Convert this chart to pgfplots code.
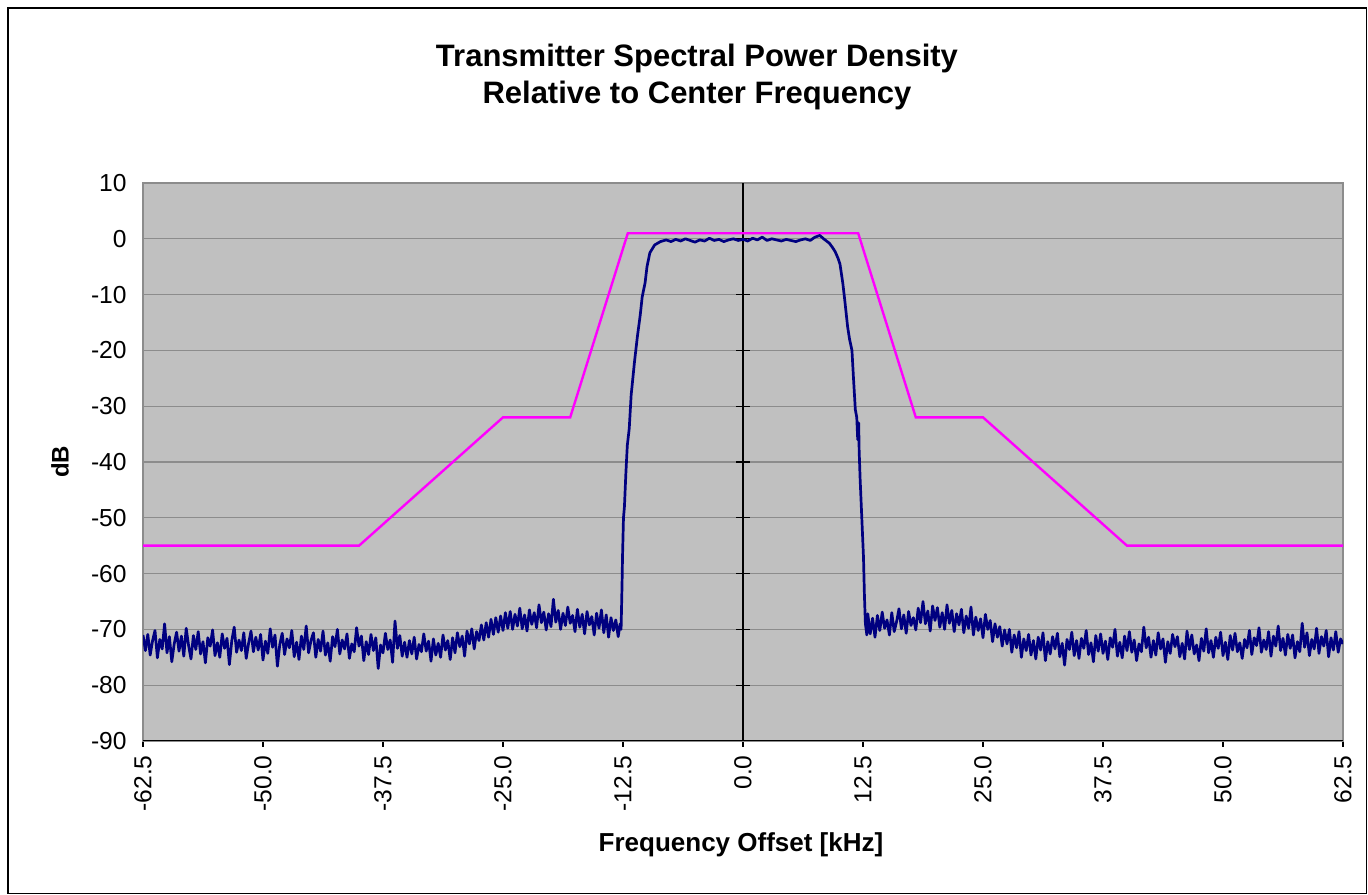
\documentclass[border=0pt]{standalone}
\usepackage{pgfplots}
\pgfplotsset{compat=1.18}
\usepackage{fontspec}
\setmainfont{Liberation Sans}
\definecolor{plotbg}{RGB}{192,192,192}
\definecolor{gridc}{RGB}{140,140,140}
\definecolor{navyc}{RGB}{0,0,128}
\definecolor{magc}{RGB}{255,0,255}
\begin{document}
\begin{tikzpicture}
\path[use as bounding box] (0,0) rectangle (684bp,447.5bp);
\draw[black, line width=0.6bp] (4bp,0.8bp) rectangle (683.2bp,443.5bp);
\begin{axis}[
  at={(71.5bp,77bp)}, anchor=south west, scale only axis,
  width=600bp, height=279bp,
  xmin=-62.5, xmax=62.5, ymin=-90, ymax=10,
  xtick={-62.5,-50,-37.5,-25,-12.5,0,12.5,25,37.5,50,62.5},
  ytick={-90,-80,...,10},
  xtick pos=bottom, ytick pos=left,
  tick align=outside, major tick length=3bp,
  ytick style={draw=none}, xtick style={black, line width=0.6bp},
  axis background/.style={fill=plotbg},
  axis line style={gridc, line width=0.8bp},
  ymajorgrids, major grid style={gridc, line width=0.6bp},
  /pgf/number format/assume math mode=true,
  tick label style={font=\fontsize{12.3bp}{14bp}\selectfont},
  yticklabel style={inner ysep=0pt, inner xsep=5bp},
  xticklabel style={rotate=90, anchor=east, inner ysep=0pt, inner xsep=4bp},
  xticklabel={\pgfmathprintnumber[fixed,fixed zerofill,precision=1]{\tick}},
]
\draw[black, line width=0.6bp] (axis cs:0,-90) -- (axis cs:0,10);
\draw[black, line width=0.6bp] ([xshift=-3.5bp]axis cs:0,0) -- ([xshift=3.5bp]axis cs:0,0);
\draw[black, line width=0.6bp] ([xshift=-3.5bp]axis cs:0,-10) -- ([xshift=3.5bp]axis cs:0,-10);
\draw[black, line width=0.6bp] ([xshift=-3.5bp]axis cs:0,-20) -- ([xshift=3.5bp]axis cs:0,-20);
\draw[black, line width=0.6bp] ([xshift=-3.5bp]axis cs:0,-30) -- ([xshift=3.5bp]axis cs:0,-30);
\draw[black, line width=0.6bp] ([xshift=-3.5bp]axis cs:0,-40) -- ([xshift=3.5bp]axis cs:0,-40);
\draw[black, line width=0.6bp] ([xshift=-3.5bp]axis cs:0,-50) -- ([xshift=3.5bp]axis cs:0,-50);
\draw[black, line width=0.6bp] ([xshift=-3.5bp]axis cs:0,-60) -- ([xshift=3.5bp]axis cs:0,-60);
\draw[black, line width=0.6bp] ([xshift=-3.5bp]axis cs:0,-70) -- ([xshift=3.5bp]axis cs:0,-70);
\draw[black, line width=0.6bp] ([xshift=-3.5bp]axis cs:0,-80) -- ([xshift=3.5bp]axis cs:0,-80);
\addplot[magc, line width=1.2bp] coordinates {
(-62.5,-55)(-40,-55)(-25,-32)(-18,-32)(-12,1)(12,1)(18,-32)(25,-32)(40,-55)(62.5,-55)};
\addplot[navyc, line width=1.35bp, line join=round] coordinates {
(-62.50,-71.0)(-62.25,-73.8)(-62.00,-70.9)(-61.75,-74.6)(-61.50,-72.0)(-61.25,-70.2)(-61.00,-75.1)(-60.75,-71.8)
(-60.50,-73.5)(-60.25,-69.0)(-60.00,-74.2)(-59.75,-71.3)(-59.50,-75.8)(-59.25,-72.6)(-59.00,-70.5)(-58.75,-73.9)
(-58.50,-71.2)(-58.25,-74.8)(-58.00,-69.8)(-57.75,-72.9)(-57.50,-75.3)(-57.25,-71.1)(-57.00,-73.6)(-56.75,-70.4)
(-56.50,-74.4)(-56.25,-72.2)(-56.00,-76.0)(-55.75,-71.5)(-55.50,-73.0)(-55.25,-70.1)(-55.00,-74.7)(-54.75,-72.4)
(-54.50,-75.0)(-54.25,-70.8)(-54.00,-73.4)(-53.75,-71.6)(-53.50,-76.3)(-53.25,-72.0)(-53.00,-69.6)(-52.75,-74.1)
(-52.50,-71.9)(-52.25,-73.8)(-52.00,-70.6)(-51.75,-75.2)(-51.50,-72.5)(-51.25,-70.3)(-51.00,-74.0)(-50.75,-71.4)
(-50.50,-73.7)(-50.25,-70.9)(-50.00,-75.5)(-49.75,-72.1)(-49.50,-74.3)(-49.25,-69.9)(-49.00,-73.2)(-48.75,-71.0)
(-48.50,-76.6)(-48.25,-72.7)(-48.00,-70.7)(-47.75,-74.5)(-47.50,-71.7)(-47.25,-73.3)(-47.00,-70.2)(-46.75,-74.9)
(-46.50,-72.3)(-46.25,-75.4)(-46.00,-71.2)(-45.75,-73.6)(-45.50,-69.4)(-45.25,-74.2)(-45.00,-72.0)(-44.75,-70.6)
(-44.50,-75.0)(-44.25,-71.8)(-44.00,-73.9)(-43.75,-70.3)(-43.50,-74.6)(-43.25,-72.4)(-43.00,-75.7)(-42.75,-71.3)
(-42.50,-73.1)(-42.25,-70.0)(-42.00,-74.4)(-41.75,-71.9)(-41.50,-73.5)(-41.25,-70.8)(-41.00,-75.2)(-40.75,-72.6)
(-40.50,-74.0)(-40.25,-69.7)(-40.00,-73.0)(-39.75,-71.2)(-39.50,-75.6)(-39.25,-72.2)(-39.00,-74.5)(-38.75,-70.9)
(-38.50,-73.8)(-38.25,-71.5)(-38.00,-77.0)(-37.75,-72.8)(-37.50,-74.2)(-37.25,-70.7)(-37.00,-73.6)(-36.75,-71.9)
(-36.50,-75.9)(-36.25,-68.5)(-36.00,-73.4)(-35.75,-71.1)(-35.50,-74.8)(-35.25,-72.3)(-35.00,-75.0)(-34.75,-72.0)
(-34.50,-74.4)(-34.25,-71.4)(-34.00,-75.3)(-33.75,-72.7)(-33.50,-74.0)(-33.25,-70.8)(-33.00,-73.9)(-32.75,-72.1)
(-32.50,-75.7)(-32.25,-71.7)(-32.00,-74.6)(-31.75,-72.5)(-31.50,-75.0)(-31.25,-71.0)(-31.00,-73.7)(-30.75,-72.0)
(-30.50,-75.4)(-30.25,-71.5)(-30.00,-74.2)(-29.75,-70.6)(-29.50,-73.1)(-29.25,-71.2)(-29.00,-74.8)(-28.75,-70.3)
(-28.50,-72.6)(-28.25,-69.9)(-28.00,-73.5)(-27.75,-70.4)(-27.50,-72.0)(-27.25,-69.2)(-27.00,-71.9)(-26.75,-68.8)
(-26.50,-71.4)(-26.25,-68.2)(-26.00,-70.9)(-25.75,-67.9)(-25.50,-70.5)(-25.25,-67.6)(-25.00,-70.2)(-24.75,-67.0)
(-24.50,-69.8)(-24.25,-66.8)(-24.00,-70.0)(-23.75,-67.3)(-23.50,-69.4)(-23.25,-66.2)(-23.00,-69.9)(-22.75,-67.4)
(-22.50,-70.3)(-22.25,-66.5)(-22.00,-69.1)(-21.75,-67.0)(-21.50,-69.7)(-21.25,-65.6)(-21.00,-68.8)(-20.75,-66.9)
(-20.50,-70.1)(-20.25,-67.2)(-20.00,-69.5)(-19.75,-64.6)(-19.50,-68.7)(-19.25,-66.6)(-19.00,-70.0)(-18.75,-67.1)
(-18.50,-69.3)(-18.25,-66.0)(-18.00,-68.9)(-17.75,-67.5)(-17.50,-70.4)(-17.25,-66.4)(-17.00,-69.6)(-16.75,-67.3)
(-16.50,-70.8)(-16.25,-66.8)(-16.00,-69.2)(-15.75,-67.7)(-15.50,-71.0)(-15.25,-67.1)(-15.00,-69.8)(-14.75,-66.5)
(-14.50,-70.6)(-14.25,-67.4)(-14.00,-71.4)(-13.75,-67.9)(-13.50,-70.2)(-13.25,-68.3)(-13.00,-71.3)(-12.80,-69.0)
(-12.70,-70.0)(-12.60,-62.0)(-12.55,-57.0)(-12.45,-50.0)(-12.35,-48.0)(-12.20,-42.0)(-12.05,-37.0)(-11.85,-34.0)
(-11.65,-28.0)(-11.30,-22.0)(-11.00,-17.5)(-10.70,-13.6)(-10.50,-10.4)(-10.20,-7.9)(-10.00,-5.0)(-9.70,-2.5)
(-9.20,-1.1)(-8.60,-0.5)(-8.00,-0.2)(-7.50,-0.5)(-7.00,-0.1)(-6.50,-0.4)(-6.00,0.0)(-5.50,-0.3)(-5.00,-0.6)
(-4.50,-0.2)(-4.00,-0.4)(-3.50,0.1)(-3.00,-0.3)(-2.50,-0.1)(-2.00,-0.5)(-1.50,-0.2)(-1.00,0.0)(-0.50,-0.3)
(0.00,-0.1)(0.50,-0.4)(1.00,0.1)(1.50,-0.2)(2.00,0.3)(2.50,-0.3)(3.00,0.0)(3.50,-0.2)(4.00,-0.4)(4.50,-0.1)
(5.00,-0.3)(5.50,-0.5)(6.00,-0.2)(6.50,0.0)(7.00,-0.3)(7.50,0.3)(8.00,0.6)(8.40,0.0)(8.70,-0.4)(9.00,-0.8)
(9.30,-1.5)(9.60,-2.3)(9.90,-3.5)(10.10,-4.5)(10.40,-8.0)(10.60,-11.0)(10.90,-15.8)(11.10,-18.0)(11.35,-20.0)
(11.50,-24.7)(11.70,-30.6)(11.85,-32.0)(11.95,-36.0)(12.05,-33.0)(12.10,-38.0)(12.20,-43.0)(12.30,-47.0)
(12.45,-53.0)(12.55,-57.0)(12.65,-64.0)(12.75,-69.0)(12.90,-71.0)
(13.00,-67.2)(13.25,-70.8)(13.50,-68.0)(13.75,-71.4)(14.00,-67.5)(14.25,-70.2)(14.50,-66.9)(14.75,-69.8)
(15.00,-68.3)(15.25,-71.0)(15.50,-67.0)(15.75,-70.4)(16.00,-68.6)(16.25,-66.3)(16.50,-69.9)(16.75,-67.4)
(17.00,-70.7)(17.25,-66.8)(17.50,-69.3)(17.75,-67.9)(18.00,-70.1)(18.25,-66.2)(18.50,-68.8)(18.75,-65.0)
(19.00,-69.0)(19.25,-66.7)(19.50,-70.3)(19.75,-65.8)(20.00,-68.4)(20.25,-66.1)(20.50,-69.6)(20.75,-67.0)
(21.00,-70.0)(21.25,-65.6)(21.50,-68.9)(21.75,-66.6)(22.00,-70.4)(22.25,-67.2)(22.50,-69.2)(22.75,-66.4)
(23.00,-70.6)(23.25,-67.6)(23.50,-69.8)(23.75,-66.0)(24.00,-71.0)(24.25,-67.8)(24.50,-70.2)(24.75,-68.1)
(25.00,-71.5)(25.25,-67.3)(25.50,-70.0)(25.75,-68.4)(26.00,-72.2)(26.25,-69.0)(26.50,-71.4)(26.75,-69.5)
(27.00,-73.0)(27.25,-70.1)(27.50,-72.6)(27.75,-70.0)(28.00,-74.1)(28.25,-71.0)(28.50,-73.3)(28.75,-70.4)
(29.00,-75.0)(29.25,-71.7)(29.50,-73.8)(29.75,-70.9)(30.00,-74.6)(30.25,-72.0)(30.50,-75.3)(30.75,-71.4)
(31.00,-73.7)(31.25,-70.6)(31.50,-75.6)(31.75,-72.2)(32.00,-74.4)(32.25,-71.3)(32.50,-73.5)(32.75,-70.7)
(33.00,-74.9)(33.25,-72.5)(33.50,-76.4)(33.75,-71.8)(34.00,-73.6)(34.25,-70.5)(34.50,-74.7)(34.75,-72.0)
(35.00,-75.2)(35.25,-71.6)(35.50,-73.4)(35.75,-70.2)(36.00,-74.5)(36.25,-72.4)(36.50,-75.8)(36.75,-71.1)
(37.00,-73.9)(37.25,-70.8)(37.50,-74.3)(37.75,-72.1)(38.00,-75.4)(38.25,-71.5)(38.50,-73.2)(38.75,-70.0)
(39.00,-74.8)(39.25,-72.3)(39.50,-75.1)(39.75,-71.2)(40.00,-73.8)(40.25,-70.4)(40.50,-74.1)(40.75,-71.9)
(41.00,-75.6)(41.25,-72.6)(41.50,-74.0)(41.75,-69.6)(42.00,-73.3)(42.25,-71.4)(42.50,-75.0)(42.75,-72.0)
(43.00,-74.6)(43.25,-70.6)(43.50,-73.5)(43.75,-71.7)(44.00,-75.9)(44.25,-72.2)(44.50,-74.3)(44.75,-70.9)
(45.00,-73.1)(45.25,-71.3)(45.50,-74.9)(45.75,-72.5)(46.00,-75.3)(46.25,-70.3)(46.50,-73.6)(46.75,-71.0)
(47.00,-74.4)(47.25,-72.8)(47.50,-75.6)(47.75,-71.6)(48.00,-73.9)(48.25,-69.9)(48.50,-74.2)(48.75,-72.0)
(49.00,-75.0)(49.25,-71.4)(49.50,-73.4)(49.75,-70.5)(50.00,-74.7)(50.25,-72.3)(50.50,-75.4)(50.75,-71.1)
(51.00,-73.7)(51.25,-70.7)(51.50,-74.0)(51.75,-72.4)(52.00,-75.2)(52.25,-71.8)(52.50,-73.3)(52.75,-70.2)
(53.00,-74.5)(53.25,-71.5)(53.50,-72.9)(53.75,-69.7)(54.00,-74.1)(54.25,-71.9)(54.50,-73.6)(54.75,-70.4)
(55.00,-74.8)(55.25,-71.2)(55.50,-73.0)(55.75,-69.4)(56.00,-73.8)(56.25,-71.6)(56.50,-74.6)(56.75,-70.9)
(57.00,-73.4)(57.25,-71.0)(57.50,-75.1)(57.75,-72.2)(58.00,-74.0)(58.25,-68.9)(58.50,-73.2)(58.75,-70.6)
(59.00,-74.7)(59.25,-71.8)(59.50,-73.5)(59.75,-69.8)(60.00,-74.3)(60.25,-71.3)(60.50,-73.0)(60.75,-70.2)
(61.00,-74.9)(61.25,-71.5)(61.50,-73.7)(61.75,-70.4)(62.00,-74.1)(62.25,-71.7)(62.50,-72.6)};
\draw[black, line width=0.8bp] (axis cs:-62.5,-90) -- (axis cs:62.5,-90);
\end{axis}
\node[font=\bfseries\fontsize{15.5bp}{18.5bp}\selectfont, align=center] at (348.5bp,409.25bp)
  {Transmitter Spectral Power Density\\Relative to Center Frequency};
\node[rotate=90, font=\bfseries\fontsize{12bp}{14bp}\selectfont] at (30bp,216.5bp) {dB};
\node[font=\bfseries\fontsize{13bp}{15bp}\selectfont] at (370.5bp,25bp) {Frequency Offset [kHz]};
\end{tikzpicture}
\end{document}
